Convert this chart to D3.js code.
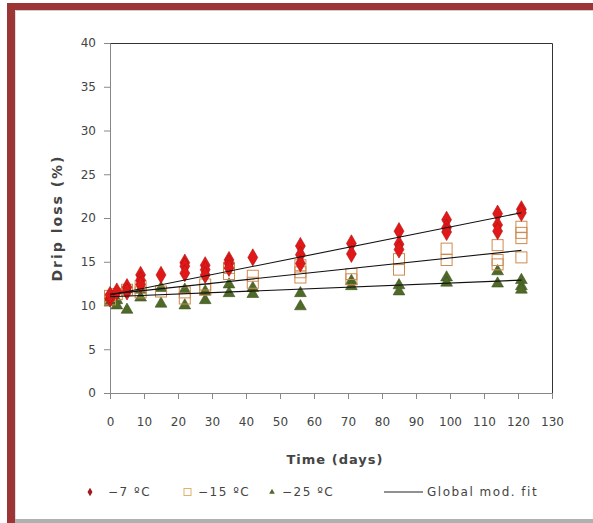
<!DOCTYPE html>
<html>
<head>
<meta charset="utf-8">
<script src="https://cdn.jsdelivr.net/npm/d3@7"></script>
<style>
  body { margin: 0; background: #fff; }
  svg text { font-family: "DejaVu Sans", Verdana, sans-serif; fill: #444; }
</style>
</head>
<body>
<div id="chart"></div>
<script>
// -7 C (red diamonds)
const t7 = [0, 0, 2, 5, 5, 9, 9, 9, 15, 22, 22, 22, 28, 28, 28, 35, 35, 35, 42, 56, 56, 56, 71, 71, 85, 85, 85, 99, 99, 99, 114, 114, 114, 121, 121];
const v7 = [10.8, 11.2, 11.6, 12.1, 11.6, 13.5, 12.9, 12.4, 13.5, 14.9, 14.5, 13.7, 14.6, 14.1, 13.5, 15.2, 14.8, 14.3, 15.5, 16.8, 15.8, 14.8, 17.1, 15.9, 18.5, 17.0, 16.4, 19.8, 18.9, 18.4, 20.5, 19.2, 18.5, 21.0, 20.6];
// -15 C (open squares)
const t15 = [0, 0, 2, 5, 9, 9, 15, 22, 22, 28, 28, 35, 35, 42, 42, 56, 56, 56, 71, 71, 85, 85, 99, 99, 114, 114, 114, 121, 121, 121, 121];
const v15 = [11.1, 10.7, 11.3, 11.8, 12.2, 11.5, 11.6, 11.5, 10.8, 12.4, 11.8, 14.3, 13.6, 13.4, 12.6, 14.6, 13.8, 13.2, 13.6, 13.0, 15.3, 14.1, 16.5, 15.2, 16.9, 15.2, 14.7, 19.0, 18.3, 17.7, 15.5];
// -25 C (triangles)
const t25 = [0, 0, 2, 2, 5, 9, 9, 15, 15, 22, 22, 28, 28, 35, 35, 42, 42, 56, 56, 71, 71, 85, 85, 99, 99, 114, 114, 121, 121, 121];
const v25 = [10.9, 10.4, 10.6, 10.0, 9.5, 11.8, 10.9, 12.0, 10.2, 11.8, 10.0, 11.6, 10.6, 12.4, 11.4, 12.0, 11.3, 11.4, 9.9, 12.8, 12.2, 12.3, 11.6, 13.2, 12.6, 13.9, 12.5, 12.9, 12.2, 11.8];
// global model fit lines (start / end)
const fitT = [0, 121];
const fit7 = [11.2, 20.6];
const fit15 = [11.3, 16.3];
const fit25 = [11.0, 12.9];

const xTicks = d3.range(0, 131, 10);
const yTicks = d3.range(0, 41, 5);
const legendLabels = ["\u22127 \u00baC", "\u221215 \u00baC", "\u221225 \u00baC", "Global mod. fit"];

const W = 593, H = 523;
const svg = d3.select("#chart").append("svg")
  .attr("width", W)
  .attr("height", H);

// frame
svg.append("rect").attr("x", 7).attr("y", 3).attr("width", W - 7).attr("height", 7).attr("fill", "#9c3636");
svg.append("rect").attr("x", 7).attr("y", 3).attr("width", 8).attr("height", H - 3).attr("fill", "#9c3636");
svg.append("line").attr("x1", 15).attr("x2", W).attr("y1", 10.5).attr("y2", 10.5).attr("stroke", "#ccc");
svg.append("line").attr("x1", 15.5).attr("x2", 15.5).attr("y1", 10).attr("y2", H).attr("stroke", "#ddd");
svg.append("rect").attr("x", 15).attr("y", 519).attr("width", W - 15).attr("height", 4).attr("fill", "#b0b0b0");

const x = d3.scaleLinear().domain([0, 130]).range([110, 552]);
const y = d3.scaleLinear().domain([0, 40]).range([393, 43]);

// plot box (top + right)
svg.append("path")
  .attr("d", `M${x(0)},${y(40) + 0.5}H${x(130) + 0.5}V${y(0)}`)
  .attr("fill", "none")
  .attr("stroke", "#333");

const xAxis = svg.append("g")
  .attr("transform", `translate(0,${y(0)})`)
  .call(d3.axisBottom(x).tickValues(xTicks).tickSize(6).tickPadding(18));
const yAxis = svg.append("g")
  .attr("transform", `translate(${x(0)},0)`)
  .call(d3.axisLeft(y).tickValues(yTicks).tickSize(6).tickPadding(8));

[xAxis, yAxis].forEach(function(g) {
  g.select(".domain").attr("stroke", "#888");
  g.selectAll(".tick line").attr("stroke", "#888");
  g.selectAll(".tick text")
    .style("font-size", "12px")
    .style("font-family", "DejaVu Sans, sans-serif")
    .attr("fill", "#444");
});

// axis titles
svg.append("text")
  .attr("x", 335).attr("y", 464)
  .attr("text-anchor", "middle")
  .style("font-size", "13px").style("font-weight", "bold").style("letter-spacing", "1px")
  .attr("fill", "#222")
  .text("Time (days)");
svg.append("text")
  .attr("transform", "translate(62,218) rotate(-90)")
  .attr("text-anchor", "middle")
  .style("font-size", "14px").style("font-weight", "bold").style("letter-spacing", "2px")
  .attr("fill", "#222")
  .text("Drip loss (%)");

const diamond = d3.symbol().type(d3.symbolDiamond).size(85);
const tri = d3.symbol().type(d3.symbolTriangle).size(60);

const pts = svg.append("g");

pts.selectAll(".tri").data(d3.zip(t25, v25)).enter()
  .append("path")
  .attr("transform", d => `translate(${x(d[0])},${y(d[1])})`)
  .attr("d", tri)
  .attr("fill", "#4f6a28")
  .attr("stroke", "#3e5520").attr("stroke-width", 0.6);

pts.selectAll(".sq").data(d3.zip(t15, v15)).enter()
  .append("rect")
  .attr("x", d => x(d[0]) - 5.5)
  .attr("y", d => y(d[1]) - 5.5)
  .attr("width", 11).attr("height", 11)
  .attr("fill", "none")
  .attr("stroke", "#cf8a4e").attr("stroke-width", 1);

pts.selectAll(".dia").data(d3.zip(t7, v7)).enter()
  .append("path")
  .attr("transform", d => `translate(${x(d[0])},${y(d[1])})`)
  .attr("d", diamond)
  .attr("fill", "#e01818")
  .attr("stroke", "#b01010").attr("stroke-width", 0.6);

const line = d3.line().x(d => x(d[0])).y(d => y(d[1]));
[fit7, fit15, fit25].forEach(function(f) {
  svg.append("path")
    .attr("d", line(d3.zip(fitT, f)))
    .attr("fill", "none")
    .attr("stroke", "#111")
    .attr("stroke-width", 1.1);
});

// legend
const ly = 492;
const leg = svg.append("g");
leg.append("path").attr("transform", `translate(90,${ly})`)
  .attr("d", d3.symbol().type(d3.symbolDiamond).size(22)).attr("fill", "#a01c1c");
leg.append("rect").attr("x", 184).attr("y", ly - 3.5).attr("width", 7).attr("height", 7)
  .attr("fill", "none").attr("stroke", "#e0b070");
leg.append("path").attr("transform", `translate(272,${ly})`)
  .attr("d", d3.symbol().type(d3.symbolTriangle).size(14)).attr("fill", "#4f6a28");
leg.append("line").attr("x1", 384).attr("x2", 423).attr("y1", ly).attr("y2", ly)
  .attr("stroke", "#222");
const lx = [108, 198, 282, 427];
legendLabels.forEach(function(s, i) {
  leg.append("text")
    .attr("x", lx[i]).attr("y", ly + 4)
    .style("font-size", "12px").style("letter-spacing", "1.5px")
    .text(s);
});
</script>
</body>
</html>
